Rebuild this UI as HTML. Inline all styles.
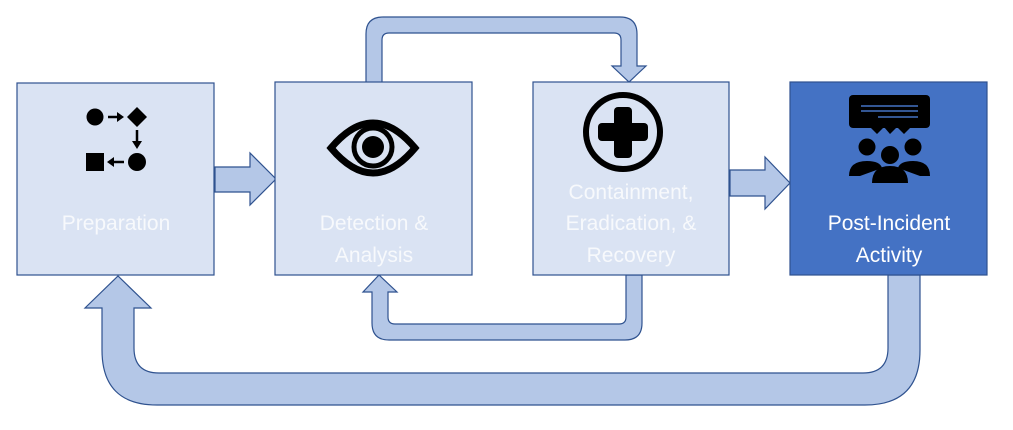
<!DOCTYPE html>
<html><head><meta charset="utf-8"><style>
html,body{margin:0;padding:0;background:#fff;}
svg{display:block;}
text{font-family:"Liberation Sans",sans-serif;font-size:21px;text-anchor:middle;}
</style></head><body>
<svg width="1013" height="430" viewBox="0 0 1013 430" xmlns="http://www.w3.org/2000/svg">
<g fill="#B4C7E7" stroke="#2F528F" stroke-width="1.2">
<path d="M366,83 V34 Q366,17 383,17 H620 Q637,17 637,34 V66 H646 L629,82 L612,66 H621 V40 Q621,33 614,33 H389 Q382,33 382,40 V83 Z"/>
<path d="M642,275 V323 Q642,340 625,340 H389 Q372,340 372,323 V292 H363 L379,275 L397,292 H388 V317 Q388,324 395,324 H619 Q626,324 626,317 V275 Z"/>
<path d="M920,275 V350 Q920,405 865,405 H157 Q102,405 102,350 V308 H85 L118,276 L151,308 H134 V348 Q134,373 159,373 H863 Q888,373 888,348 V275 Z"/>
<path d="M215,167 H250 V153 L276,179 L250,205 V192 H215 Z"/>
<path d="M730,170 H765 V157 L790,183 L765,209 V196 H730 Z"/>
</g>
<g stroke="#2F528F" stroke-width="1.2">
<rect x="17" y="83" width="197" height="192" fill="#DAE3F3"/>
<rect x="275" y="82" width="197" height="193" fill="#DAE3F3"/>
<rect x="533" y="82" width="196" height="193" fill="#DAE3F3"/>
<rect x="790" y="82" width="197" height="193" fill="#4472C4"/>
</g>
<g fill="#000" stroke="#000">
<circle cx="95" cy="117" r="8.5" stroke="none"/>
<line x1="108" y1="117" x2="120" y2="117" stroke-width="2.5"/>
<path d="M117,112 L124,117 L117,122Z" stroke="none"/>
<path d="M137,107 L147,117 L137,127 L127,117Z" stroke="none"/>
<line x1="137" y1="130" x2="137" y2="143" stroke-width="2.5"/>
<path d="M132,141 L137,149 L142,141Z" stroke="none"/>
<circle cx="137" cy="162" r="9" stroke="none"/>
<rect x="86" y="153" width="18" height="18" stroke="none"/>
<line x1="112" y1="162" x2="124" y2="162" stroke-width="2.5"/>
<path d="M114,157 L107,162 L114,167Z" stroke="none"/>
</g>
<g>
<path d="M331,148 Q373,98 415,148 Q373,198 331,148Z" fill="none" stroke="#000" stroke-width="7"/>
<circle cx="373" cy="147" r="19" fill="none" stroke="#000" stroke-width="5"/>
<circle cx="373" cy="147" r="11" fill="#000"/>
</g>
<g>
<circle cx="623" cy="132" r="37" fill="none" stroke="#000" stroke-width="6"/>
<rect x="614" y="107" width="18" height="51" rx="4" fill="#000"/>
<rect x="598" y="123" width="50" height="18" rx="4" fill="#000"/>
</g>
<g fill="#000">
<rect x="849" y="95" width="81" height="33" rx="4"/>
<path d="M870,127 L877,134 L884,127 L890,134 L897,127 L904,134 L911,127Z"/>
<line x1="861" y1="106" x2="918" y2="106" stroke="#4472C4" stroke-width="1.5"/>
<line x1="861" y1="111" x2="918" y2="111" stroke="#4472C4" stroke-width="1.5"/>
<line x1="878" y1="117" x2="918" y2="117" stroke="#4472C4" stroke-width="1.5"/>
<circle cx="867" cy="147" r="8.5"/><circle cx="913" cy="147" r="8.5"/><circle cx="890" cy="155" r="9"/>
<path d="M849,176 Q849,161 867,161 Q880,161 882,168 L860,176Z"/>
<path d="M930,176 Q930,161 913,161 Q900,161 898,168 L920,176Z"/>
<path d="M872,183 Q872,166 890,166 Q908,166 908,183Z"/>
</g>
<g fill="#F7F9FC">
<text x="116" y="230">Preparation</text>
<text x="374" y="230">Detection &amp;</text>
<text x="374" y="262">Analysis</text>
<text x="631" y="199">Containment,</text>
<text x="631" y="230">Eradication, &amp;</text>
<text x="631" y="262">Recovery</text>
</g>
<g fill="#fff">
<text x="889" y="230">Post-Incident</text>
<text x="889" y="262">Activity</text>
</g>
</svg>
</body></html>
